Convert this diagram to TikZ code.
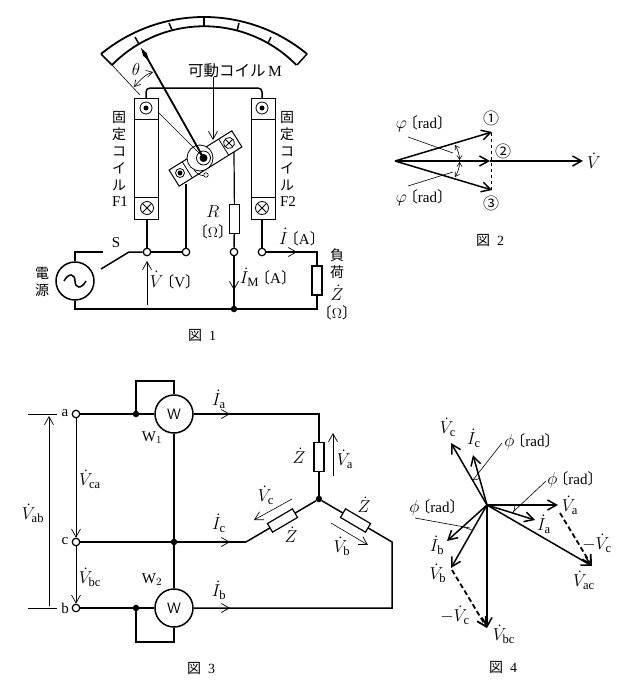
\documentclass[tikz,border=0pt]{standalone}
\usepackage{amsmath}
\usepackage{fontspec}
\setmainfont{Liberation Serif}
\newfontfamily\cjk{Noto Sans CJK JP}
\usetikzlibrary{arrows.meta,calc}
\newcommand{\brk}[1]{{\cjk\kern-4pt〔}#1{\cjk〕\kern-4pt}}
\newcommand{\mth}[1]{\scalebox{1.2}{$#1$}}
\newcommand{\Vph}[1]{\mth{\dot{V}_{\mathrm{#1}}}}
\newcommand{\Iph}[1]{\mth{\dot{I}_{\mathrm{#1}}}}
\newcommand{\Zph}{\mth{\dot{Z}}}

\begin{document}
\begin{tikzpicture}[x=1pt,y=-1pt,
    every node/.style={font=\fontsize{15}{17}\selectfont,inner sep=0pt},
    wire/.style={line width=1.5pt},
    heavy/.style={line width=1.8pt},
    slim/.style={line width=0.6pt},
    barb/.style={-{Straight Barb[length=8pt,width=9pt,line width=0.7pt]}},
    bigbarb/.style={-{Straight Barb[length=9pt,width=10pt]}},
    term/.style={circle,draw,line width=1.2pt,fill=white,inner sep=0pt,minimum size=7.5pt},
    jdot/.style={circle,fill=black,inner sep=0pt,minimum size=6.5pt},
    imp/.style={rectangle,draw,line width=1.2pt,fill=white,inner sep=0pt,outer sep=0pt,minimum width=29pt,minimum height=10pt},
    coil/.style={rectangle,draw,line width=1pt,fill=white,inner sep=0pt,outer sep=0pt,minimum width=24pt,minimum height=121pt},
    dotcoil/.style={circle,draw,line width=0.8pt,inner sep=0pt,minimum size=12pt,path picture={\fill (path picture bounding box.center) circle (2.5pt);}},
    crosscoil/.style={circle,draw,line width=0.8pt,inner sep=0pt,minimum size=13pt,path picture={
        \draw[line width=0.8pt] (path picture bounding box.north west) -- (path picture bounding box.south east);
        \draw[line width=0.8pt] (path picture bounding box.north east) -- (path picture bounding box.south west);}},
    meter/.style={circle,draw,line width=1.5pt,fill=white,inner sep=0pt,minimum size=38pt,font=\fontsize{15}{15}\sffamily},
    vtext/.style={align=center,font=\fontsize{14}{17}\selectfont\cjk,inner sep=0pt},
    caption/.style={font=\fontsize{14}{16}\selectfont}]
    \useasboundingbox (0,0) rectangle (637,686);

    % Scale of the meter
    \draw[heavy] (101,54) arc[start angle=230.5,end angle=309.5,radius=162];
    \draw[heavy] (112,65) arc[start angle=224.4,end angle=315.6,radius=129];
    \draw[wire] (101,54) -- (112,65);
    \draw[wire] (307,54) -- (297,65);
    \draw[wire] (135,37) -- (139,44);
    \draw[wire] (169,23) -- (172,30);
    \draw[wire] (204,17) -- (204,26);
    \draw[wire] (239,23) -- (237,31);
    \draw[wire] (271,37) -- (268,43);
    \draw[slim] (112,65) -- (140,95);

    % Fixed coils
    \node[coil] (f1) at (146.5,158.5) {};
    \node[coil] (f2) at (263,158.5) {};
    \draw[slim] (134.5,119) -- (158.5,119) (134.5,197) -- (158.5,197);
    \draw[slim] (251,119) -- (275,119) (251,197) -- (275,197);
    \node[dotcoil] (f1t) at (146,108) {};
    \node[dotcoil] (f2t) at (262,108) {};
    \node[crosscoil] (f1b) at (147,208) {};
    \node[crosscoil] (f2b) at (262,208) {};
    \draw[wire,rounded corners=4pt] (f1.north -| f1t) -- (146,88) -- (262,88) -- (f2.north -| f2t);
    \node[vtext] at (119,151) {固\\定\\コ\\イ\\ル};
    \node[vtext] at (287,151) {固\\定\\コ\\イ\\ル};
    \node at (120,202) {F1};
    \node at (288,202) {F2};

    % Moving coil
    \node[rectangle,draw,line width=1pt,fill=white,inner sep=0pt,outer sep=0pt,
        minimum width=74pt,minimum height=19pt,rotate=32] (mc) at (205.5,158.5) {};
    \draw[slim,line width=0.8pt] ($(mc.north west)!0.21!(mc.north east)$) -- ($(mc.south west)!0.21!(mc.south east)$);
    \draw[slim,line width=0.8pt] ($(mc.north west)!0.79!(mc.north east)$) -- ($(mc.south west)!0.79!(mc.south east)$);
    \node[dotcoil,minimum size=9pt] (mcl) at (180,173) {};
    \node[crosscoil,minimum size=11pt,rotate=32] (mcr) at (229,143) {};
    \coordinate (pivot) at (203,157);
    \draw[slim,line width=0.8pt,fill=white] (200,158) circle (13);
    \draw[slim,line width=0.8pt,fill=white] (203.5,158) circle (7);
    \fill (203.5,158) circle (4);
    \node[circle,draw,slim,fill=white,inner sep=0pt,minimum size=4.5pt] (mcs) at (206,175) {};
    \draw[slim] (194,170) .. controls (197,174) and (201,176) .. (mcs);
    \draw[slim] (158,112) -- (pivot);
    \draw[line width=1.8pt] (pivot) -- (146,56);
    \fill (141,48) -- (146.9,53.3) -- (149,61) -- (143.1,55.7) -- cycle;
    \draw[slim,<->,>={Straight Barb[length=6pt,width=7pt]}] (134,87) .. controls (140,80) and (146,74) .. (153,72);
    \node at (136,69) {\mth{\theta}};
    \node[font=\fontsize{15.5}{17}\selectfont\cjk,inner sep=0pt] (mclabel) at (235,71) {可動コイル\,{\rmfamily M}};
    \draw[slim,barb] (213,77) -- (213,140);

    % Supply circuit of figure 1
    \node[term] (t1) at (147,252) {};
    \node[term] (t2) at (186,252) {};
    \node[term] (t3) at (234,252) {};
    \node[term] (t4) at (262,252) {};
    \node[jdot] (j1) at (234,309) {};
    \node[imp,rotate=90] (rm) at (234.5,219) {};
    \node[imp,rotate=90] (zl) at (317,280.5) {};
    \node[circle,draw,line width=1.5pt,inner sep=0pt,minimum size=38pt] (ac) at (75,281) {};
    \draw[wire] (64,281) .. controls (69,272) and (75,274) .. (75,281) .. controls (75,288) and (81,290) .. (86,281);
    \coordinate (s1) at (103,252);
    \coordinate (s2) at (129,252);
    \coordinate (s3) at (101,269);
    \draw[wire] (ac) -- (ac |- s1) -- (s1);
    \draw[wire] (s3) -- (s2) -- (t1);
    \draw[wire] (t1) -- (t2);
    \draw[wire] (f1.south -| t1) -- (t1);
    \draw[wire] (f2.south -| t4) -- (t4);
    \draw[line width=1.2pt] (186,184) -- (t2);
    \draw[line width=1.2pt] (234,152) -- (rm);
    \draw[wire] (rm) -- (t3);
    \draw[wire] (t3) -- (j1);
    \draw[slim,barb] (234,270) -- (234,290);
    \draw[wire] (t4) -- (317,252) -- (zl);
    \draw[wire] (zl) -- (317,309) -- (j1);
    \draw[wire] (j1) -- (ac |- j1) -- (ac);
    \draw[slim,barb] (280,252) -- (297,252);
    \draw[slim,barb] (147,305) -- (147,261);
    \node at (116,243) {S};
    \node[vtext] at (42,282) {電\\源};
    \node at (173,280) {\mth{\dot{V}}\brk{V}};
    \node at (266,277) {\Iph{M}\brk{A}};
    \node at (213,212) {\mth{R}};
    \node at (213,232) {\brk{$\Omega$}};
    \node at (300,237) {\mth{\dot{I}}\brk{A}};
    \node[vtext] at (337,264) {負\\荷};
    \node at (337,293) {\Zph};
    \node at (337,313) {\brk{$\Omega$}};
    \node[caption] at (202,335) {{\cjk 図}\ \ 1};

    % Figure 2
    \coordinate (o) at (395,161);
    \coordinate (p1) at (492,132);
    \coordinate (p2) at (490,161);
    \coordinate (p3) at (492,190);
    \coordinate (pv) at (583,161);
    \draw[slim,dashed] (491,133) -- (491,190);
    \draw[wire,bigbarb] (o) -- (p1);
    \draw[wire,bigbarb] (o) -- (p3);
    \draw[wire,bigbarb] (o) -- (p2);
    \draw[wire,bigbarb] (p2) -- (pv);
    \draw[slim] (408,137) -- (453,153);
    \draw[slim] (408,186) -- (453,172);
    \draw[slim,<->,>={Straight Barb[length=4pt,width=5pt]}] (455,145) .. controls (458,150) and (459.5,155) .. (459.5,160);
    \draw[slim,<->,>={Straight Barb[length=4pt,width=5pt]}] (459.5,162) .. controls (459.5,167) and (458,172) .. (455,177);
    \node[font=\fontsize{16}{16}\selectfont\cjk] at (491,118) {①};
    \node[font=\fontsize{16}{16}\selectfont\cjk] at (503,151) {②};
    \node[font=\fontsize{16}{16}\selectfont\cjk] at (491,203) {③};
    \node at (594,161) {\mth{\dot{V}}};
    \node at (422,124) {\mth{\varphi}\brk{rad}};
    \node at (422,198) {\mth{\varphi}\brk{rad}};
    \node[caption] at (490,240) {{\cjk 図}\ \ 2};

    % Figure 3
    \node[term] (ta) at (76,414) {};
    \node[term] (tc) at (76,542) {};
    \node[term] (tb) at (76,608) {};
    \node[meter] (w1) at (174,414) {W};
    \node[meter] (w2) at (174,608) {W};
    \node[jdot] (ja) at (136,414) {};
    \node[jdot] (jb) at (136,608) {};
    \node[jdot] (jc) at (174,542) {};
    \node[jdot] (star) at (319,499) {};
    \coordinate (cc) at (246,542);
    \coordinate (cb) at (392,542);
    \coordinate (cd) at (392,608);
    \node[imp,rotate=90] (za) at (319,457) {};
    \node[imp,rotate=30.5] (zc) at ($(cc)!0.5!(star)$) {};
    \node[imp,rotate=-30.5] (zb) at ($(star)!0.5!(cb)$) {};
    \draw[wire] (ta) -- (ja);
    \draw[wire] (ja) -- (w1);
    \draw[wire] (tb) -- (jb);
    \draw[wire] (jb) -- (w2);
    \draw[wire] (tc) -- (jc);
    \draw[wire] (jc) -- (cc);
    \draw[wire] (ja) -- (136,381) -- (174,381) -- (w1);
    \draw[wire] (jb) -- (136,642) -- (174,642) -- (w2);
    \draw[wire] (w1) -- (jc);
    \draw[wire] (jc) -- (w2);
    \draw[wire] (w1) -- (319,414) -- (za);
    \draw[wire] (za) -- (star);
    \draw[wire] (cc) -- (zc);
    \draw[wire] (zc) -- (star);
    \draw[wire] (star) -- (zb);
    \draw[wire] (zb) -- (cb) -- (cd) -- (w2);
    \draw[slim,barb] (213,414) -- (230,414);
    \draw[slim,barb] (213,542) -- (230,542);
    \draw[slim,barb] (213,608) -- (230,608);
    \draw[slim] (28,414) -- (57,414);
    \draw[slim] (28,608) -- (57,608);
    \draw[slim,barb] (49,606) -- (49,416);
    \draw[slim,barb] (ta) -- (tc);
    \draw[slim,barb] (tc) -- (tb);
    \draw[slim,barb] (333,476) -- (333,433);
    \draw[slim,barb] (292,499) -- (254,520);
    \draw[slim,barb] (331,523) -- (368,545);
    \node at (65,413) {a};
    \node at (65,541) {c};
    \node at (65,608) {b};
    \node at (33,513) {\Vph{ab}};
    \node at (90,479) {\Vph{ca}};
    \node at (90,577) {\Vph{bc}};
    \node at (152,438) {W$_1$};
    \node at (152,580) {W$_2$};
    \node at (219,399) {\Iph{a}};
    \node at (219,523) {\Iph{c}};
    \node at (219,590) {\Iph{b}};
    \node at (299,456) {\Zph};
    \node at (345,459) {\Vph{a}};
    \node at (266,495) {\Vph{c}};
    \node at (291,535) {\Zph};
    \node at (364,505) {\Zph};
    \node at (342,546) {\Vph{b}};
    \node[caption] at (201,668) {{\cjk 図}\ \ 3};

    % Figure 4
    \coordinate (n) at (487,505);
    \coordinate (va) at (558,505);
    \coordinate (ia) at (535,520);
    \coordinate (vac) at (592,566);
    \coordinate (vc) at (451,443);
    \coordinate (ic) at (473,455);
    \coordinate (ib) at (447,541);
    \coordinate (vb) at (451,568);
    \coordinate (vbc) at (487,628);
    \draw[wire,bigbarb] (n) -- (va);
    \draw[wire,bigbarb] (n) -- (ia);
    \draw[wire,bigbarb] (n) -- (vac);
    \draw[wire,bigbarb] (n) -- (vc);
    \draw[wire,bigbarb] (n) -- (ic);
    \draw[wire,bigbarb] (n) -- (ib);
    \draw[wire,bigbarb] (n) -- (vb);
    \draw[wire,bigbarb] (n) -- (vbc);
    \draw[heavy,dash pattern=on 5pt off 3pt,bigbarb] (560,513) -- (vac);
    \draw[heavy,dash pattern=on 5pt off 3pt,bigbarb] (452,570) -- (vbc);
    \draw[slim] (502,443) -- (473,480);
    \draw[slim] (546,481) -- (513,512);
    \draw[slim] (415,518) -- (470,528);
    \draw[slim] (473,480) .. controls (476,480) and (478,479) .. (480,478);
    \draw[slim] (515,505) .. controls (515,508) and (514,511) .. (513,513);
    \draw[slim] (463,527) .. controls (466,528) and (469,529) .. (472,530);
    \node at (448,427) {\Vph{c}};
    \node at (474,438) {\Iph{c}};
    \node at (530,442) {\mth{\phi}\brk{rad}};
    \node at (573,480) {\mth{\phi}\brk{rad}};
    \node at (435,508) {\mth{\phi}\brk{rad}};
    \node at (570,505) {\Vph{a}};
    \node at (544,524) {\Iph{a}};
    \node at (597,543) {\mth{-\dot{V}_{\mathrm{c}}}};
    \node at (584,580) {\Vph{ac}};
    \node at (437,545) {\Iph{b}};
    \node at (438,573) {\Vph{b}};
    \node at (455,615) {\mth{-\dot{V}_{\mathrm{c}}}};
    \node at (504,634) {\Vph{bc}};
    \node[caption] at (503,667) {{\cjk 図}\ \ 4};
\end{tikzpicture}
\end{document}
